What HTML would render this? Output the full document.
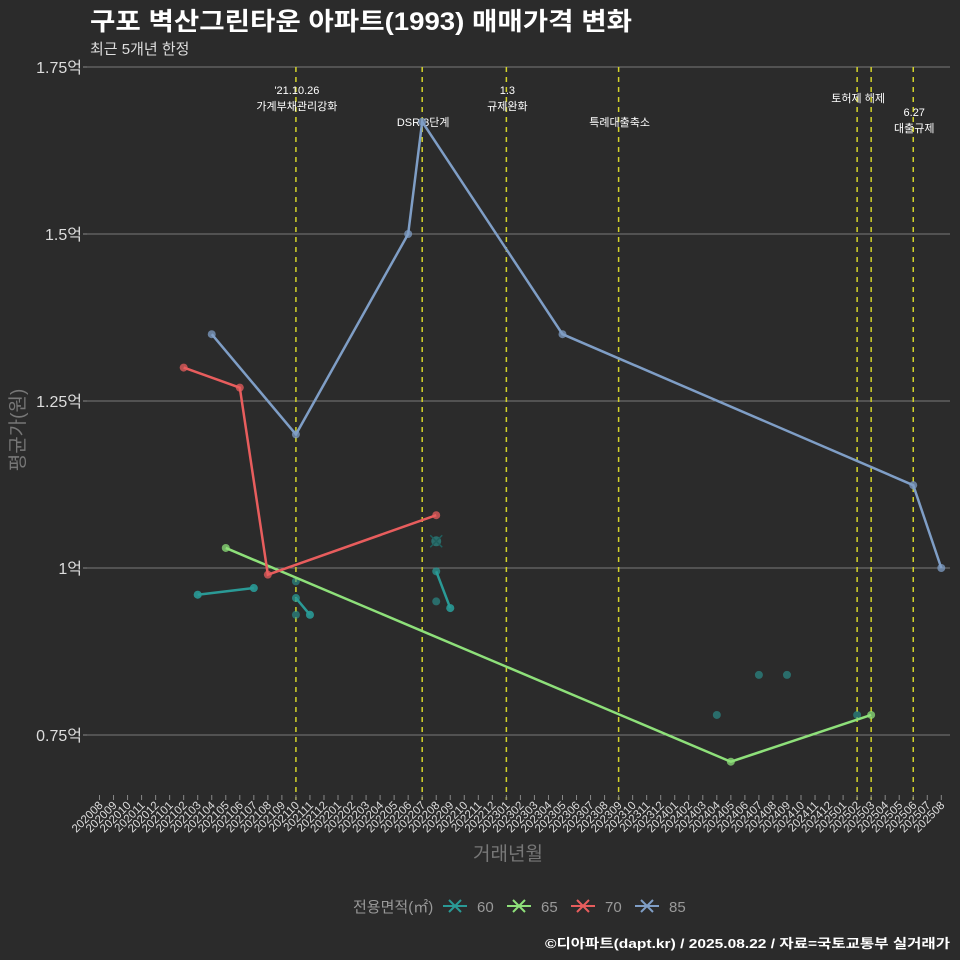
<!DOCTYPE html>
<html><head><meta charset="utf-8"><style>
body{margin:0;background:#2b2b2b;}
svg{display:block;font-family:"Liberation Sans","Noto Sans CJK KR",sans-serif;}
</style></head><body>
<svg id="chart" width="960" height="960" viewBox="0 0 960 960">
<rect width="960" height="960" fill="#2b2b2b"/>
<text x="90" y="30" font-size="25" font-weight="bold" fill="#fff" textLength="542" lengthAdjust="spacingAndGlyphs">구포 벽산그린타운 아파트(1993) 매매가격 변화</text>
<text x="90" y="54" font-size="15" fill="#ddd">최근 5개년 한정</text>
<g id="grid"></g><g id="events"></g><g id="series"></g><g id="xaxis"></g><g id="yaxis"></g>
<text x="508" y="860" font-size="19" fill="#777" text-anchor="middle">거래년월</text>
<text transform="translate(24,430) rotate(-90)" font-size="19" fill="#777" text-anchor="middle">평균가(원)</text>
<g id="legend"></g>
<text x="950" y="948" font-size="13" font-weight="bold" fill="#fff" text-anchor="end" textLength="405" lengthAdjust="spacingAndGlyphs">©디아파트(dapt.kr) / 2025.08.22 / 자료=국토교통부 실거래가</text>
</svg>
<script>
const months=[];for(let y=2020,m=8;months.length<61;){months.push(y+String(m).padStart(2,'0'));m++;if(m>12){m=1;y++;}}
const yTicks=[0.75,1.0,1.25,1.5,1.75];
const yTickLabels=['0.75억','1억','1.25억','1.5억','1.75억'];
const seriesNames=['60','65','70','85'];
const seriesColors=['#2a9a96','#8ee07a','#e85d5d','#7f9ec6'];
const line60=[['202103',0.96],['202107',0.97],null,['202110',0.955],['202111',0.93],null,['202208',0.995],['202209',0.94]];
const line65=[['202105',1.03],['202405',0.71],['202503',0.78]];
const line70=[['202102',1.30],['202106',1.27],['202108',0.99],['202208',1.079]];
const line85=[['202104',1.35],['202110',1.20],['202206',1.50],['202207',1.668],['202305',1.35],['202506',1.124],['202508',1.0]];
const points60=[['202103',0.96],['202107',0.97],['202110',0.98],['202110',0.93],['202111',0.93],['202208',0.95],['202209',0.94],['202404',0.78],['202407',0.84],['202409',0.84],['202502',0.78]];
const cross60=[['202208',1.04]];
const eventMonths=['202110','202207','202301','202309','202502','202503','202506'];
const eventLabels=[["'21.10.26","가계부채관리강화"],["DSR 3단계"],["1.3","규제완화"],["특례대출축소"],["토허제 해제"],[""],["6.27","대출규제"]];
const eventLabelY=[90,122,90,122,98,0,112];
const NS='http://www.w3.org/2000/svg';
const x=mo=>99.5+14.03*months.indexOf(mo);
const y=v=>568-(v-1)*668;
function el(t,a,p){const e=document.createElementNS(NS,t);for(const k in a)e.setAttribute(k,a[k]);document.getElementById(p).appendChild(e);return e;}
yTicks.forEach((t,i)=>{
 const g=el('line',{x1:87,x2:950,y1:y(t),y2:y(t),stroke:'#7a7a7a','stroke-width':1},'grid');
 
 
 const tk=el('line',{x1:83,x2:87,y1:y(t),y2:y(t),stroke:'#888'},'yaxis');
 
 
 const tx=el('text',{x:82,y:y(t)+6,'font-size':16,fill:'#ddd','text-anchor':'end'},'yaxis');
 tx.textContent=yTickLabels[i];
 
 
});
months.forEach(mo=>{
 const tk=el('line',{x1:x(mo),x2:x(mo),y1:795,y2:800,stroke:'#888'},'xaxis');
 
 
 const tx=el('text',{transform:`translate(${x(mo)+4},806) rotate(-45)`,'font-size':11.5,fill:'#ddd','text-anchor':'end'},'xaxis');
 tx.textContent=mo;
 
 
});
eventMonths.forEach((mo,i)=>{
 const l=el('line',{x1:x(mo),x2:x(mo),y1:67,y2:800,stroke:'#d4d42a','stroke-width':1.5,'stroke-dasharray':'5,5'},'events');
 
 
 eventLabels[i].forEach((s,j)=>{if(!s)return;
  const t=el('text',{x:x(mo)+1,y:eventLabelY[i]+j*16+4,'font-size':11,fill:'#fff','text-anchor':'middle'},'events');
  t.textContent=s;
  
  
 });
});
function drawLine(data,color,name){
 let d='',pen=false;
 data.forEach(p=>{if(!p){pen=false;return;}d+=(pen?'L':'M')+x(p[0])+','+y(p[1]);pen=true;});
 const pa=el('path',{d,fill:'none',stroke:color,'stroke-width':2.5},'series');
 
 
 data.forEach(p=>{if(!p)return;
  const c=el('circle',{cx:x(p[0]),cy:y(p[1]),r:4,fill:color,opacity:0.75},'series');
  
  
 });
}
points60.forEach(p=>{
 const c=el('circle',{cx:x(p[0]),cy:y(p[1]),r:4,fill:seriesColors[0],opacity:0.6},'series');
 
 
});
drawLine(line60,seriesColors[0],'60');
drawLine(line65,seriesColors[1],'65');
drawLine(line70,seriesColors[2],'70');
drawLine(line85,seriesColors[3],'85');
cross60.forEach(p=>{
 const cx=x(p[0]),cy=y(p[1]);
 const c=el('circle',{cx,cy,r:5,fill:seriesColors[0],opacity:0.6},'series');
 
 
 const pa=el('path',{d:`M${cx-6},${cy-6}L${cx+6},${cy+6}M${cx-6},${cy+6}L${cx+6},${cy-6}`,stroke:'#1f5f5d','stroke-width':1.5},'series');
 
 
});
const lt=el('text',{x:353,y:912,'font-size':15,fill:'#999'},'legend');
lt.textContent='전용면적(㎡)';


seriesNames.forEach((n,i)=>{
 const bx=443+i*64;
 const pa=el('path',{d:`M${bx},906L${bx+24},906M${bx+6},900L${bx+18},912M${bx+6},912L${bx+18},900`,stroke:seriesColors[i],'stroke-width':2},'legend');
 
 
 const t=el('text',{x:bx+34,y:912,'font-size':15,fill:'#999'},'legend');
 t.textContent=n;
 
 
});
</script>
</body></html>
